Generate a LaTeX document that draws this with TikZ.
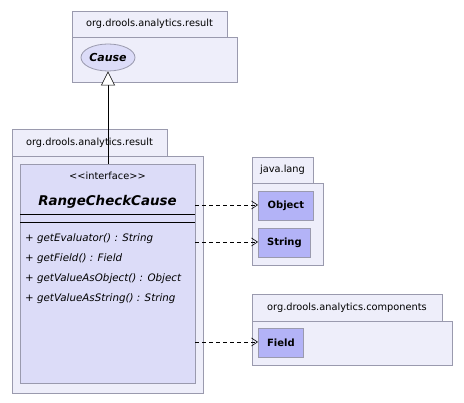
\documentclass[tikz,border=0pt]{standalone}
\usepackage{fontspec}
\setmainfont{DejaVu Sans}
\usetikzlibrary{arrows.meta,shapes.geometric,positioning}
\definecolor{pkgfill}{HTML}{EEEEFA}
\definecolor{pkgline}{HTML}{9A9AAE}
\definecolor{clsfill}{HTML}{DCDCF8}
\definecolor{extfill}{HTML}{B3B3F7}
\tikzset{
  pkgbox/.style={draw=pkgline, fill=pkgfill, line width=0.8pt},
  pkglabel/.style={font=\fontsize{9.8}{11}\selectfont, inner sep=0pt},
  clsbox/.style={draw=pkgline, fill=clsfill, line width=0.8pt},
  extbox/.style={draw=pkgline, fill=extfill, line width=0.8pt, anchor=north west, inner sep=0pt, font=\bfseries\fontsize{10}{12}\selectfont},
  meth/.style={anchor=west, inner sep=0pt, font=\itshape\fontsize{10.3}{12}\selectfont},
  dep/.style={dash pattern=on 4pt off 3pt, line width=0.6pt, -{Straight Barb[length=6pt,width=8pt]}},
}
\begin{document}
\begin{tikzpicture}[x=1pt,y=-1pt]
\useasboundingbox (0,0) rectangle (464,403);
% package 1
\draw[pkgbox] (72,11) rectangle (227,37);
\draw[pkgbox] (72,37) rectangle (237,82);
\node[pkglabel] (p1lab) at (149.5,24) {org.drools.analytics.result};
\node[draw=pkgline, fill=clsfill, line width=0.8pt, ellipse, minimum width=54pt, minimum height=27pt, inner sep=0pt, font=\bfseries\itshape\fontsize{11}{13}\selectfont] (cause) at (108,57.5) {Cause};
% package 2
\draw[pkgbox] (12,129) rectangle (167,156);
\draw[pkgbox] (12,156) rectangle (203,393);
\node[pkglabel] (p2lab) at (89.5,142.5) {org.drools.analytics.result};
\node[clsbox, anchor=north west, minimum width=175pt, minimum height=219pt, inner sep=0pt] (rcc) at (20,164) {};
\node[inner sep=0pt, font=\fontsize{9.8}{11}\selectfont] (stereo) at (107.5,175.5) {<{}<interface>{}>};
\node[inner sep=0pt, font=\bfseries\itshape\fontsize{13.4}{15}\selectfont] (cname) at (107.5,202) {RangeCheckCause};
\draw[line width=0.8pt] (20,214) -- (195,214);
\draw[line width=0.8pt] (20,222) -- (195,222);
\node[meth] (m1) at (25,239) {+ getEvaluator() : String};
\node[meth] (m2) at (25,259) {+ getField() : Field};
\node[meth] (m3) at (25,279) {+ getValueAsObject() : Object};
\node[meth] (m4) at (25,299) {+ getValueAsString() : String};
% java.lang
\draw[pkgbox] (252,157) rectangle (313,183);
\draw[pkgbox] (252,183) rectangle (323,265);
\node[pkglabel] (p3lab) at (282.5,170) {java.lang};
\node[extbox, minimum width=55pt, minimum height=29pt] (object) at (258,191) {Object};
\node[extbox, minimum width=52pt, minimum height=29pt] (string) at (258,228) {String};
% components
\draw[pkgbox] (252,294) rectangle (442,321);
\draw[pkgbox] (252,321) rectangle (452,365);
\node[pkglabel] (p4lab) at (347,307.5) {org.drools.analytics.components};
\node[extbox, minimum width=45pt, minimum height=29pt] (field) at (258,328) {Field};
% connectors
\draw[line width=0.6pt, -{Triangle[open, length=14pt, width=14pt, fill=white]}] (rcc.north -| cause.south) -- (cause.south);
\coordinate (d1) at (195,205);
\coordinate (d2) at (195,242);
\coordinate (d3) at (195,342);
\draw[dep] (d1) -- (d1 -| object.west);
\draw[dep] (d2) -- (d2 -| string.west);
\draw[dep] (d3) -- (d3 -| field.west);
\end{tikzpicture}
\end{document}
